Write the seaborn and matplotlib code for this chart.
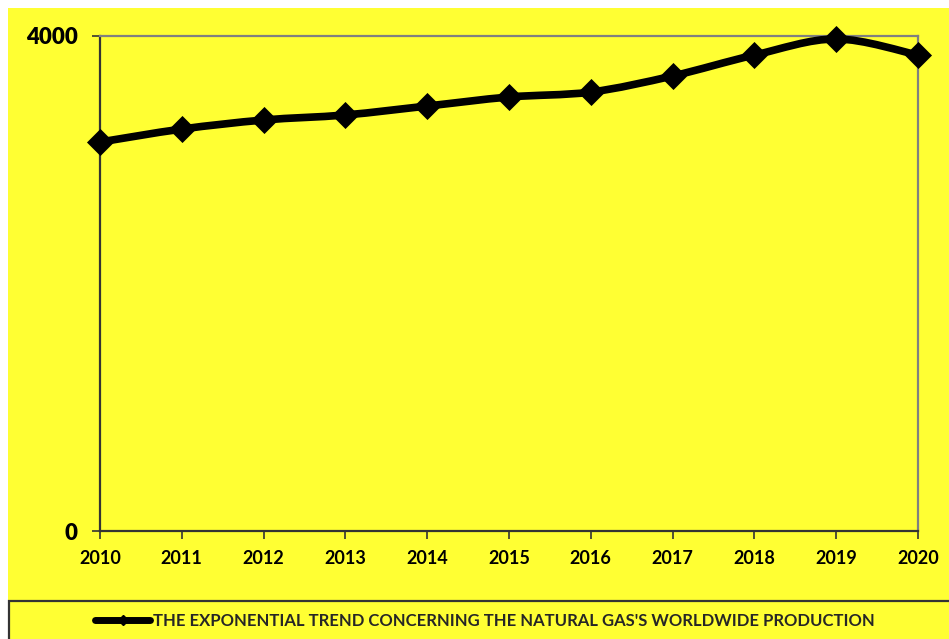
import numpy as np
import pandas as pd
import matplotlib
matplotlib.use("Agg")
import matplotlib.pyplot as plt
from matplotlib.path import Path
from matplotlib.patches import PathPatch, Rectangle
from matplotlib.lines import Line2D
import seaborn as sns

years = [2010, 2011, 2012, 2013, 2014, 2015, 2016, 2017, 2018, 2019, 2020]
production = [3143, 3248, 3321, 3362, 3434, 3507, 3547, 3677, 3846, 3976, 3846]
y_ticks = [0, 4000]
legend_label = "THE EXPONENTIAL TREND CONCERNING THE NATURAL GAS'S WORLDWIDE PRODUCTION"

df = pd.DataFrame({"year": years, "production": production})

sns.set_theme(style="white")
plt.rcParams['font.family'] = ['Lato', 'DejaVu Sans']

YELLOW = "#FFFF33"
W, H = 949, 639
fig = plt.figure(figsize=(W / 100, H / 100), dpi=100)
fig.patch.set_facecolor("white")
fig.add_artist(Rectangle((8 / W, 0), 1 - 8 / W, 1 - 8 / H, transform=fig.transFigure,
                         facecolor=YELLOW, edgecolor="none", zorder=0))
fig.add_artist(Rectangle((9 / W, -0.01), 1.0, (H - 601) / H + 0.01, transform=fig.transFigure,
                         facecolor=YELLOW, edgecolor="#333333", linewidth=1.6, zorder=1))

ax = fig.add_axes([100 / W, 1 - 531 / H, (918 - 100) / W, (531 - 36) / H])
ax.set_facecolor(YELLOW)

x = np.array(df["year"], dtype=float)
y = np.array(df["production"], dtype=float)
verts = [(x[0], y[0])]
codes = [Path.MOVETO]
n = len(x)
for i in range(n - 1):
    p0 = (x[i - 1], y[i - 1]) if i > 0 else (x[i], y[i])
    p1 = (x[i], y[i])
    p2 = (x[i + 1], y[i + 1])
    p3 = (x[i + 2], y[i + 2]) if i + 2 < n else (x[i + 1], y[i + 1])
    c1 = (p1[0] + (p2[0] - p0[0]) / 6, p1[1] + (p2[1] - p0[1]) / 6)
    c2 = (p2[0] - (p3[0] - p1[0]) / 6, p2[1] - (p3[1] - p1[1]) / 6)
    verts += [c1, c2, p2]
    codes += [Path.CURVE4] * 3
ax.add_patch(PathPatch(Path(verts, codes), facecolor="none", edgecolor="black",
                       linewidth=5.5, capstyle="round", joinstyle="round", zorder=3, clip_on=False))

sns.scatterplot(data=df, x="year", y="production", marker="D", s=190, color="black",
                edgecolor="black", linewidth=0, ax=ax, zorder=4, clip_on=False, legend=False)

ax.set_xlim(2010, 2020)
ax.set_ylim(0, 4000)
ax.set_xticks(years)
ax.set_xticklabels([str(v) for v in years])
ax.set_yticks(y_ticks)
ax.set_yticklabels([str(v) for v in y_ticks])
for lbl in ax.get_xticklabels():
    lbl.set_fontweight("bold")
    lbl.set_fontsize(13)
for lbl in ax.get_yticklabels():
    lbl.set_fontweight("heavy")
    lbl.set_fontsize(16)
ax.set_xlabel("")
ax.set_ylabel("")
for side in ["top", "right"]:
    ax.spines[side].set_color("#808080")
    ax.spines[side].set_linewidth(1.6)
for side in ["left", "bottom"]:
    ax.spines[side].set_color("#333333")
    ax.spines[side].set_linewidth(1.6)
ax.tick_params(axis="both", direction="out", length=6, width=1.2, color="#333333",
               left=True, bottom=True, labelcolor="black")
ax.tick_params(axis="x", pad=8)
ax.tick_params(axis="y", pad=10)

handle = Line2D([0], [0], color="black", linewidth=5, marker="D", markersize=5,
                solid_capstyle="round")
fig.legend([handle], [legend_label], loc="center", bbox_to_anchor=(0.511, 1 - 621 / H),
           frameon=False, handlelength=3.3, handletextpad=0.15,
           prop={"family": ["Lato", "DejaVu Sans"], "weight": "bold", "size": 12})

fig.savefig("out.png", dpi=100, facecolor="white")
